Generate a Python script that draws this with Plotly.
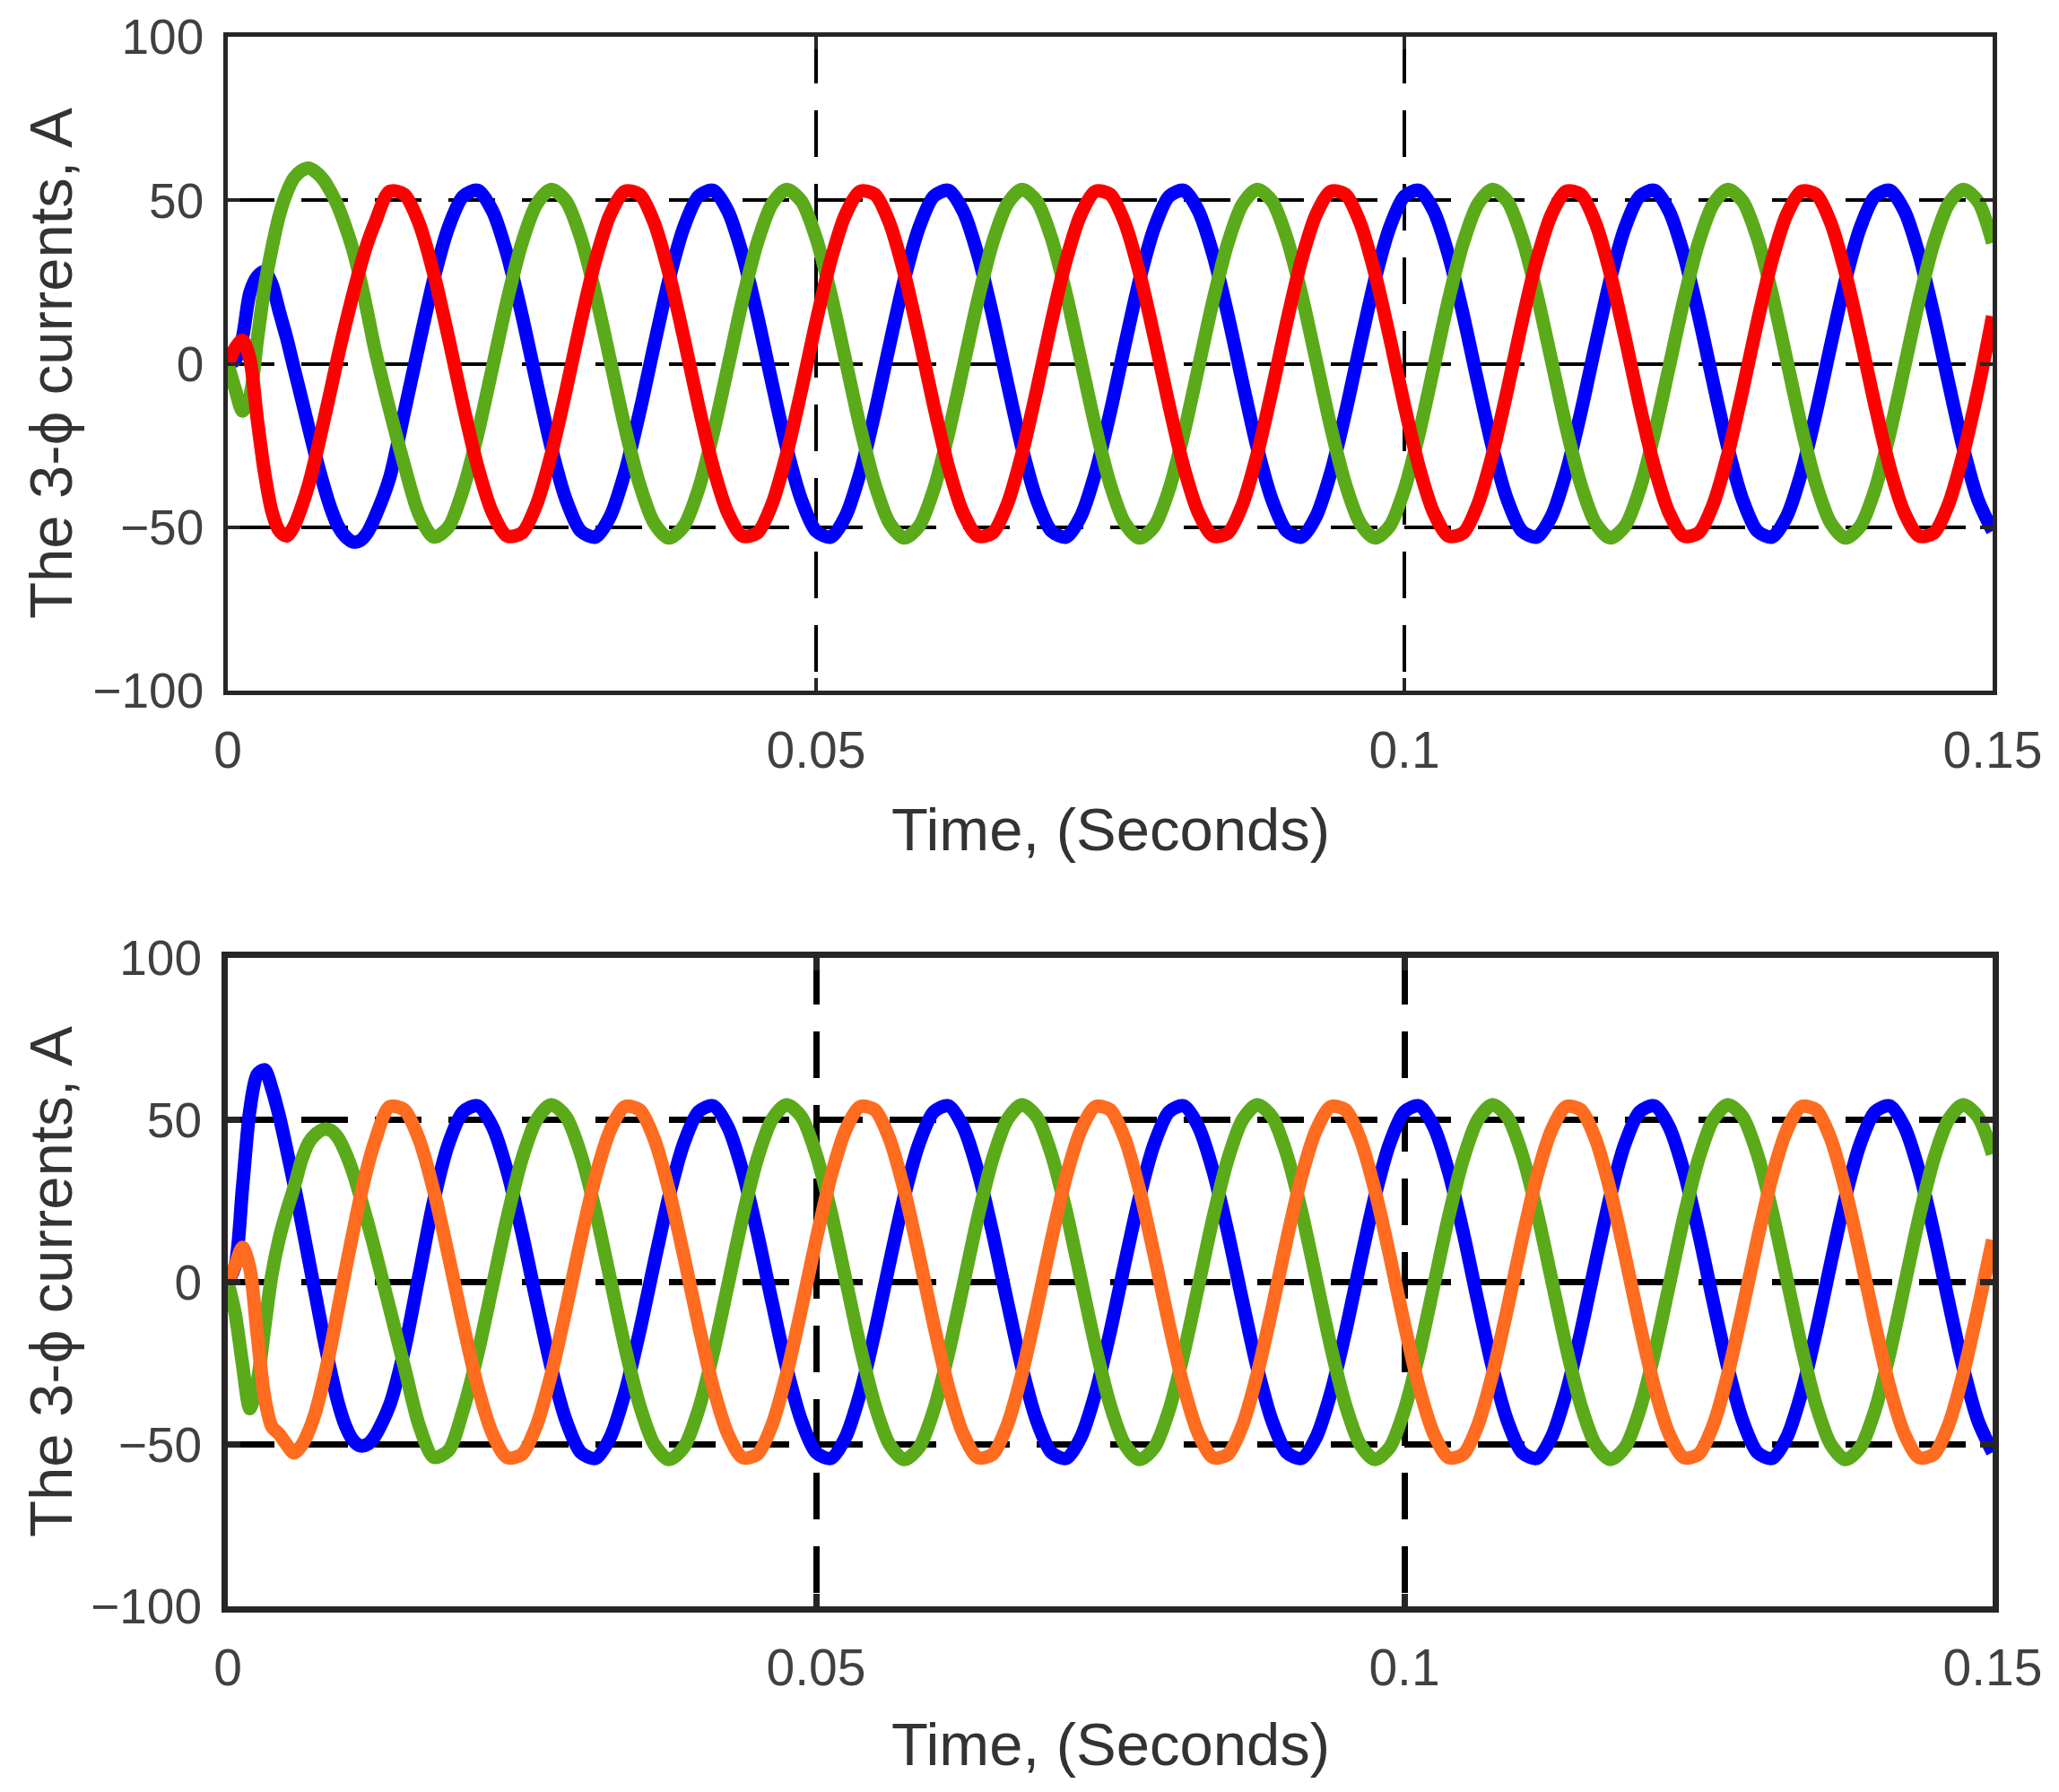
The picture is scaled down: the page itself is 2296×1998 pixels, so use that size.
import plotly.graph_objects as go

# Sampling instants (seconds): fine step over the start-up transient, then 1.25 ms
TIME = [round(i * 0.000625, 6) for i in range(21)] + [round(k * 0.00125, 6) for k in range(11, 121)]

# ---------------- Top panel (A) ----------------
TOP_BLUE = [
    0, 1, 8, 21.6, 26.6, 28.2, 24.3, 16, 7.9, -1.3, -10.4, -19.6, -28.7, -36.9, -44.2, -49.7, -52.9, -54.5, -54.1, -51.6, -47,
    -35, -14.9, 5.8, 25.7, 41.6,
    51.2, 53.0, 46.7, 33.3, 14.9, -5.8, -25.7, -41.6, -51.2, -53.0, -46.7, -33.3, -14.9, 5.8, 25.7, 41.6,
    51.2, 53.0, 46.7, 33.3, 14.9, -5.8, -25.7, -41.6, -51.2, -53.0, -46.7, -33.3, -14.9, 5.8, 25.7, 41.6,
    51.2, 53.0, 46.7, 33.3, 14.9, -5.8, -25.7, -41.6, -51.2, -53.0, -46.7, -33.3, -14.9, 5.8, 25.7, 41.6,
    51.2, 53.0, 46.7, 33.3, 14.9, -5.8, -25.7, -41.6, -51.2, -53.0, -46.7, -33.3, -14.9, 5.8, 25.7, 41.6,
    51.2, 53.0, 46.7, 33.3, 14.9, -5.8, -25.7, -41.6, -51.2, -53.0, -46.7, -33.3, -14.9, 5.8, 25.7, 41.6,
    51.2, 53.0, 46.7, 33.3, 14.9, -5.8, -25.7, -41.6, -51.2, -53.0, -46.7, -33.3, -14.9, 5.8, 25.7, 41.6,
    51.2, 53.0, 46.7, 33.3, 14.9, -5.8, -25.7, -41.6, -51.2,
]
TOP_RED = [
    0, 4.7, 7.2, 1.5, -16.8, -33.3, -45.2, -51.1, -52.7, -49.7, -44, -37, -28, -18, -8, 2.4, 12, 21, 29.5, 37, 43,
    52.7, 51.8, 43.0, 27.6, 8.1,
    -12.7, -31.6, -45.6, -52.7, -51.8, -43.0, -27.6, -8.1, 12.7, 31.6, 45.6, 52.7, 51.8, 43.0, 27.6, 8.1,
    -12.7, -31.6, -45.6, -52.7, -51.8, -43.0, -27.6, -8.1, 12.7, 31.6, 45.6, 52.7, 51.8, 43.0, 27.6, 8.1,
    -12.7, -31.6, -45.6, -52.7, -51.8, -43.0, -27.6, -8.1, 12.7, 31.6, 45.6, 52.7, 51.8, 43.0, 27.6, 8.1,
    -12.7, -31.6, -45.6, -52.7, -51.8, -43.0, -27.6, -8.1, 12.7, 31.6, 45.6, 52.7, 51.8, 43.0, 27.6, 8.1,
    -12.7, -31.6, -45.6, -52.7, -51.8, -43.0, -27.6, -8.1, 12.7, 31.6, 45.6, 52.7, 51.8, 43.0, 27.6, 8.1,
    -12.7, -31.6, -45.6, -52.7, -51.8, -43.0, -27.6, -8.1, 12.7, 31.6, 45.6, 52.7, 51.8, 43.0, 27.6, 8.1,
    -12.7, -31.6, -45.6, -52.7, -51.8, -43.0, -27.6, -8.1, 14.5,
]
TOP_GREEN = [
    0, -7.7, -14.5, -10, 7, 23.4, 35.3, 45.3, 52.2, 56.8, 59, 59.8, 58.6, 56.3, 52.6, 48, 42, 35, 26, 15.5, 4.5,
    -14, -31, -46, -53, -50,
    -38.5, -21.4, -1.1, 19.4, 36.9, 48.8, 53.3, 49.7, 38.5, 21.4, 1.1, -19.4, -36.9, -48.8, -53.3, -49.7,
    -38.5, -21.4, -1.1, 19.4, 36.9, 48.8, 53.3, 49.7, 38.5, 21.4, 1.1, -19.4, -36.9, -48.8, -53.3, -49.7,
    -38.5, -21.4, -1.1, 19.4, 36.9, 48.8, 53.3, 49.7, 38.5, 21.4, 1.1, -19.4, -36.9, -48.8, -53.3, -49.7,
    -38.5, -21.4, -1.1, 19.4, 36.9, 48.8, 53.3, 49.7, 38.5, 21.4, 1.1, -19.4, -36.9, -48.8, -53.3, -49.7,
    -38.5, -21.4, -1.1, 19.4, 36.9, 48.8, 53.3, 49.7, 38.5, 21.4, 1.1, -19.4, -36.9, -48.8, -53.3, -49.7,
    -38.5, -21.4, -1.1, 19.4, 36.9, 48.8, 53.3, 49.7, 38.5, 21.4, 1.1, -19.4, -36.9, -48.8, -53.3, -49.7,
    -38.5, -21.4, -1.1, 19.4, 36.9, 48.8, 53.3, 49.7, 37.0,
]

# ---------------- Bottom panel (B) ----------------
BOT_BLUE = [
    0, 5, 29, 53, 64, 65.5, 59.6, 51.2, 41, 30.3, 18.8, 7, -4.8, -16.7, -27.6, -37.2, -44.3, -48.7, -50.5, -50, -47.5,
    -38, -21, 2, 25, 42.5,
    52.5, 54.4, 47.9, 34.2, 15.3, -6.0, -26.4, -42.7, -52.5, -54.4, -47.9, -34.2, -15.3, 6.0, 26.4, 42.7,
    52.5, 54.4, 47.9, 34.2, 15.3, -6.0, -26.4, -42.7, -52.5, -54.4, -47.9, -34.2, -15.3, 6.0, 26.4, 42.7,
    52.5, 54.4, 47.9, 34.2, 15.3, -6.0, -26.4, -42.7, -52.5, -54.4, -47.9, -34.2, -15.3, 6.0, 26.4, 42.7,
    52.5, 54.4, 47.9, 34.2, 15.3, -6.0, -26.4, -42.7, -52.5, -54.4, -47.9, -34.2, -15.3, 6.0, 26.4, 42.7,
    52.5, 54.4, 47.9, 34.2, 15.3, -6.0, -26.4, -42.7, -52.5, -54.4, -47.9, -34.2, -15.3, 6.0, 26.4, 42.7,
    52.5, 54.4, 47.9, 34.2, 15.3, -6.0, -26.4, -42.7, -52.5, -54.4, -47.9, -34.2, -15.3, 6.0, 26.4, 42.7,
    52.5, 54.4, 47.9, 34.2, 15.3, -6.0, -26.4, -42.7, -52.5,
]
BOT_ORANGE = [
    0, 5.2, 10.7, 4.2, -16, -35.4, -44.6, -46.9, -50.1, -52.7, -50.5, -46, -39.5, -30.5, -20, -8.2, 3.7, 15, 26, 35.5, 43.4,
    54.1, 53.1, 44.1, 28.3, 8.3,
    -13.0, -32.4, -46.8, -54.1, -53.1, -44.1, -28.3, -8.3, 13.0, 32.4, 46.8, 54.1, 53.1, 44.1, 28.3, 8.3,
    -13.0, -32.4, -46.8, -54.1, -53.1, -44.1, -28.3, -8.3, 13.0, 32.4, 46.8, 54.1, 53.1, 44.1, 28.3, 8.3,
    -13.0, -32.4, -46.8, -54.1, -53.1, -44.1, -28.3, -8.3, 13.0, 32.4, 46.8, 54.1, 53.1, 44.1, 28.3, 8.3,
    -13.0, -32.4, -46.8, -54.1, -53.1, -44.1, -28.3, -8.3, 13.0, 32.4, 46.8, 54.1, 53.1, 44.1, 28.3, 8.3,
    -13.0, -32.4, -46.8, -54.1, -53.1, -44.1, -28.3, -8.3, 13.0, 32.4, 46.8, 54.1, 53.1, 44.1, 28.3, 8.3,
    -13.0, -32.4, -46.8, -54.1, -53.1, -44.1, -28.3, -8.3, 13.0, 32.4, 46.8, 54.1, 53.1, 44.1, 28.3, 8.3,
    -13.0, -32.4, -46.8, -54.1, -53.1, -44.1, -28.3, -8.3, 13.0,
]
BOT_GREEN = [
    0, -9.6, -25.3, -39, -31, -14.2, 2.4, 13.5, 21.8, 29.1, 37.4, 43, 45.7, 47.1, 46.8, 44.5, 40, 34, 26.5, 18.5, 10,
    -8, -26, -44, -54, -52,
    -39.5, -22.0, -1.1, 19.9, 37.9, 50.1, 54.7, 51.0, 39.5, 22.0, 1.1, -19.9, -37.9, -50.1, -54.7, -51.0,
    -39.5, -22.0, -1.1, 19.9, 37.9, 50.1, 54.7, 51.0, 39.5, 22.0, 1.1, -19.9, -37.9, -50.1, -54.7, -51.0,
    -39.5, -22.0, -1.1, 19.9, 37.9, 50.1, 54.7, 51.0, 39.5, 22.0, 1.1, -19.9, -37.9, -50.1, -54.7, -51.0,
    -39.5, -22.0, -1.1, 19.9, 37.9, 50.1, 54.7, 51.0, 39.5, 22.0, 1.1, -19.9, -37.9, -50.1, -54.7, -51.0,
    -39.5, -22.0, -1.1, 19.9, 37.9, 50.1, 54.7, 51.0, 39.5, 22.0, 1.1, -19.9, -37.9, -50.1, -54.7, -51.0,
    -39.5, -22.0, -1.1, 19.9, 37.9, 50.1, 54.7, 51.0, 39.5, 22.0, 1.1, -19.9, -37.9, -50.1, -54.7, -51.0,
    -39.5, -22.0, -1.1, 19.9, 37.9, 50.1, 54.7, 51.0, 39.5,
]

X_TITLE = "Time, (Seconds)"
Y_TITLE = "The 3-\u03d5 currents, A"

BLUE = "#0000FF"
RED = "#FF0000"
GREEN = "#5AAA1A"
ORANGE = "#FF6B1F"

W, H = 2296, 1998
OFF = 8  # page body margin in px
FONT = "Liberation Sans, Arial, Helvetica, sans-serif"
LW = 15

fig = go.Figure()

def add(y, color, xa, ya):
    fig.add_trace(go.Scatter(
        x=TIME, y=y, mode="lines", xaxis=xa, yaxis=ya,
        line=dict(color=color, width=LW, shape="spline", smoothing=0.8),
        hoverinfo="skip", showlegend=False, cliponaxis=False,
    ))

add(TOP_BLUE, BLUE, "x", "y")
add(TOP_GREEN, GREEN, "x", "y")
add(TOP_RED, RED, "x", "y")
add(BOT_BLUE, BLUE, "x2", "y2")
add(BOT_GREEN, GREEN, "x2", "y2")
add(BOT_ORANGE, ORANGE, "x2", "y2")

def px_x(p):
    return (p - OFF) / W

def px_y(p):
    return 1 - (p - OFF) / H

x_dom = [px_x(254), px_x(2222)]
top_dom = [px_y(770), px_y(41)]
bot_dom = [px_y(1791), px_y(1068)]

def xaxis(dom_anchor, lw, gw):
    return dict(
        domain=x_dom, anchor=dom_anchor, range=[0, 0.15], tick0=0, dtick=0.05,
        automargin=False,
        showgrid=True, gridcolor="#000000", gridwidth=gw, griddash="52px,30px",
        zeroline=False, showline=True, mirror="allticks", linecolor="#262626", linewidth=lw,
        ticks="inside", ticklen=14, tickwidth=gw, tickcolor="#262626",
        tickfont=dict(family=FONT, size=57, color="#404040"),
        ticklabelstandoff=13, layer="above traces",
    )

def yaxis(dom, anchor, lw, gw):
    return dict(
        domain=dom, anchor=anchor, range=[-100, 100], tick0=0, dtick=50,
        automargin=False,
        showgrid=True, gridcolor="#000000", gridwidth=gw, griddash="52px,30px",
        zeroline=False, showline=True, mirror="allticks", linecolor="#262626", linewidth=lw,
        ticks="inside", ticklen=14, tickwidth=gw, tickcolor="#262626",
        tickfont=dict(family=FONT, size=55, color="#404040"),
        ticklabelstandoff=11, layer="above traces",
    )

fig.update_layout(
    template="none",
    width=W, height=H, autosize=False,
    margin=dict(l=0, r=0, t=0, b=0, pad=0),
    paper_bgcolor="white", plot_bgcolor="white",
    showlegend=False,
    xaxis=xaxis("y", 4.5, 4),
    yaxis=yaxis(top_dom, "x", 4.5, 4),
    xaxis2=xaxis("y2", 7, 6.5),
    yaxis2=yaxis(bot_dom, "x2", 7, 6.5),
)

xc = (x_dom[0] + x_dom[1]) / 2
annots = [
    dict(text=X_TITLE, x=xc, y=px_y(924)),
    dict(text=X_TITLE, x=xc, y=px_y(1944)),
    dict(text=Y_TITLE, x=px_x(56), y=px_y(405), textangle=-90),
    dict(text=Y_TITLE, x=px_x(56), y=px_y(1429), textangle=-90),
]
for a in annots:
    fig.add_annotation(
        xref="paper", yref="paper", showarrow=False, xanchor="center", yanchor="middle",
        font=dict(family=FONT, size=67, color="#333333"), **a,
    )

fig.write_html("out.html")
